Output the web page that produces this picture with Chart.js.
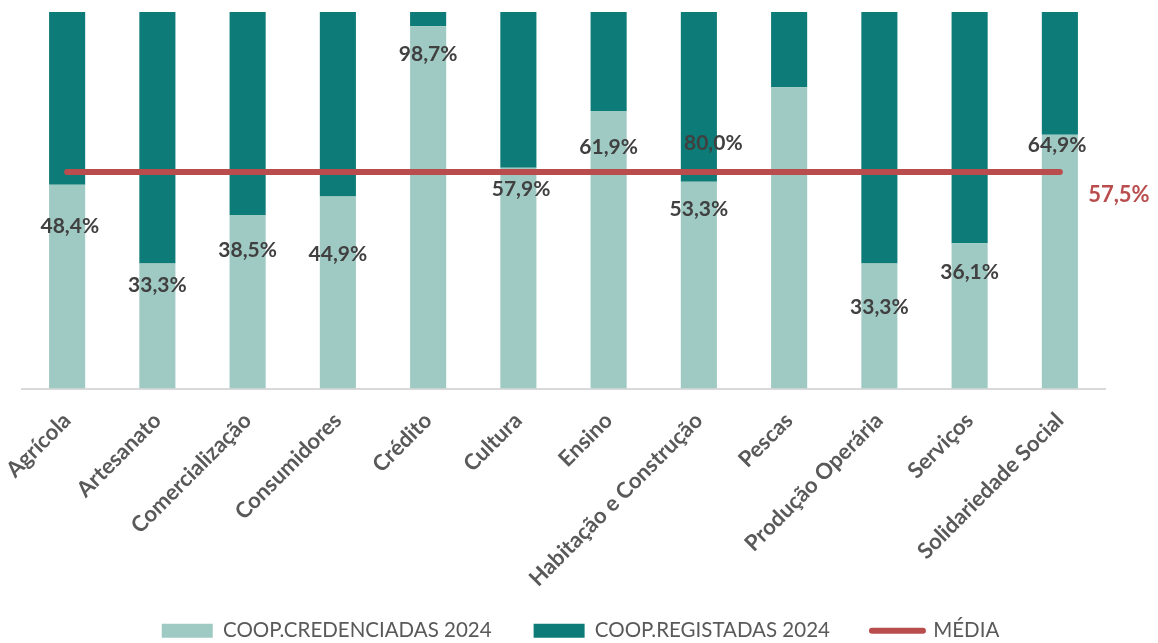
<!DOCTYPE html>
<html>
<head>
<meta charset="utf-8">
<script src="https://cdn.jsdelivr.net/npm/chart.js@4"></script>
<style>
  html, body { margin: 0; padding: 0; background: #ffffff; }
  #wrap { width: 1158px; height: 643px; }
</style>
</head>
<body>
<div id="wrap"><canvas id="chart" width="1158" height="643"></canvas></div>
<script>
// categories and values
const CATEGORIES = [
  "Agrícola", "Artesanato", "Comercialização", "Consumidores", "Crédito", "Cultura",
  "Ensino", "Habitação e Construção", "Pescas", "Produção Operária", "Serviços", "Solidariedade Social",
];
const CREDENCIADAS = [54.1, 33.2, 46.1, 51.0, 96.2, 58.6, 73.7, 54.9, 80.0, 33.2, 38.6, 67.4];
const REGISTADAS = [45.9, 66.8, 53.9, 49.0, 3.8, 41.4, 26.3, 45.1, 20.0, 66.8, 61.4, 32.6];
const MEDIA = [57.5, 57.5, 57.5, 57.5, 57.5, 57.5, 57.5, 57.5, 57.5, 57.5, 57.5, 57.5];
const MEDIA_LABEL = "57,5%";

// data label texts, and where they sit (category index, % level)
const CRED_LABELS = ["48,4%", "33,3%", "38,5%", "44,9%", "98,7%", "57,9%", "61,9%", "53,3%", "80,0%", "33,3%", "36,1%", "64,9%"];
const LABEL_AT_X = [0.03, 1, 2, 3, 4, 5.03, 6, 7, 7.16, 9, 10, 10.97];
const LABEL_AT_Y = [43.2, 27.5, 36.6, 35.7, 88.9, 53.0, 64.2, 47.7, 65.2, 21.6, 31.0, 64.5];

const COLORS = {
  light: "#9fcac3",
  dark: "#0d7b77",
  media: "#b94d4d",
  label: "#404040",
  tick: "#595959",
  axis: "#d9d9d9",
};
const FONT = "Lato";

//draws the percentage labels and the average label
const labelPlugin = {
  id: "labels",
  afterLayout(chart) {
    // nudge the legend: a bit right of centre, and up over the tall axis box
    const legend = chart.legend;
    legend.left += 17;
    legend.right += 17;
    legend.top -= 20;
    legend.bottom -= 20;
  },
  afterDatasetsDraw(chart) {
    const { ctx, scales } = chart;
    ctx.save();
    ctx.font = `bold 21px ${FONT}`;
    ctx.fillStyle = COLORS.label;
    ctx.textAlign = "center";
    ctx.textBaseline = "middle";
    CRED_LABELS.forEach((text, i) => {
      ctx.fillText(text, scales.x.getPixelForValue(LABEL_AT_X[i]), scales.y.getPixelForValue(LABEL_AT_Y[i]));
    });

    const last = MEDIA.length - 1;
    ctx.font = `bold 22px ${FONT}`;
    ctx.fillStyle = COLORS.media;
    ctx.fillText(MEDIA_LABEL, scales.x.getPixelForValue(last) + 59, scales.y.getPixelForValue(MEDIA[last]) + 23);
    ctx.restore();
  },
};

new Chart(document.getElementById("chart"), {
  data: {
    labels: CATEGORIES,
    datasets: [
      {
        type: "bar",
        label: "COOP.CREDENCIADAS 2024",
        data: CREDENCIADAS,
        backgroundColor: COLORS.light,
        stack: "coop",
        order: 1,
        barPercentage: 0.8,
        categoryPercentage: 0.5,
      },
      {
        type: "bar",
        label: "COOP.REGISTADAS 2024",
        data: REGISTADAS,
        backgroundColor: COLORS.dark,
        stack: "coop",
        order: 1,
        barPercentage: 0.8,
        categoryPercentage: 0.5,
      },
      {
        type: "line",
        label: "MÉDIA",
        data: MEDIA,
        borderColor: COLORS.media,
        backgroundColor: COLORS.media,
        borderWidth: 6,
        borderCapStyle: "round",
        pointRadius: 0,
        stack: "media",
        order: 0,
      },
    ],
  },
  options: {
    responsive: false,
    animation: false,
    layout: { padding: { top: 12, left: 22, right: 53, bottom: -28 } },
    scales: {
      x: {
        stacked: true,
        grid: { display: false, drawTicks: false },
        border: { display: true, color: COLORS.axis, width: 2 },
        ticks: {
          color: COLORS.tick,
          font: { family: FONT, size: 22, weight: "bold" },
          minRotation: 45,
          maxRotation: 45,
          padding: 19,
          autoSkip: false,
        },
        afterFit(scale) {
          scale.height = 210;
          scale.paddingLeft = 0;
          scale.paddingRight = 0;
        },
      },
      y: {
        stacked: true,
        display: false,
        min: 0,
        max: 100,
      },
    },
    plugins: {
      tooltip: { enabled: false },
      legend: {
        position: "bottom",
        labels: {
          color: COLORS.tick,
          font: { family: FONT, size: 20.5 },
          usePointStyle: true,
          pointStyleWidth: 51,
          boxHeight: 14,
          padding: 42,
          sort: (a, b) => a.datasetIndex - b.datasetIndex,
          generateLabels(chart) {
            const items = Chart.defaults.plugins.legend.labels.generateLabels(chart);
            return items.map((item) => {
              const ds = chart.data.datasets[item.datasetIndex];
              if (ds.type === "line") {
                return { ...item, pointStyle: "line", lineWidth: 6, lineCap: "round", strokeStyle: COLORS.media };
              }
              return { ...item, pointStyle: "rect", lineWidth: 0 };
            });
          },
        },
      },
    },
  },
  plugins: [labelPlugin],
});
</script>
</body>
</html>
